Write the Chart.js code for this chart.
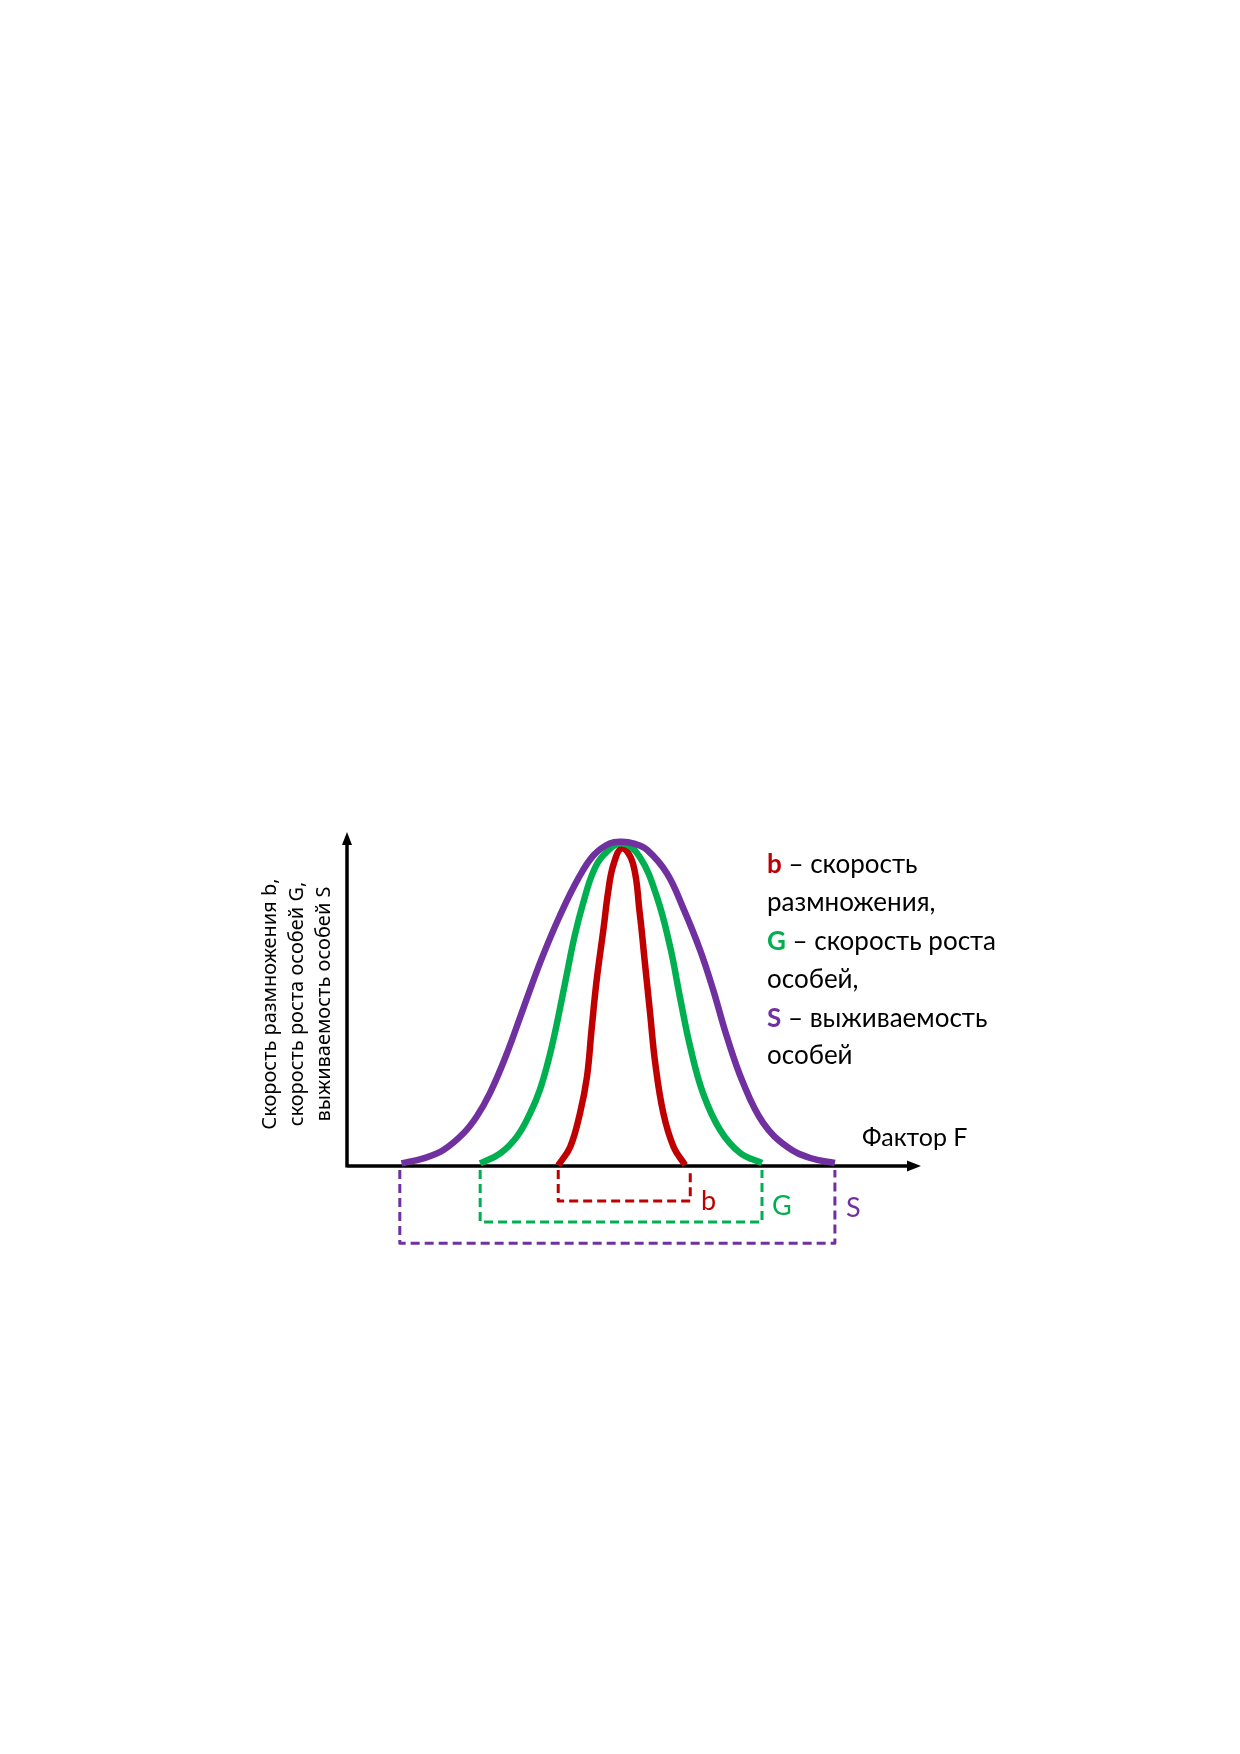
<!DOCTYPE html>
<html>
<head>
<meta charset="utf-8">
<script src="https://cdn.jsdelivr.net/npm/chart.js@4/dist/chart.umd.min.js"></script>
<style>
  body { margin: 0; background: #fff; }
  canvas { display: block; }
</style>
</head>
<body>
<canvas id="curves" width="1240" height="1754"></canvas>
<script>
// bell curves, factor F on x (0..100), rate on y (0..100)
const sX = [9.5, 13.3, 16.8, 20.3, 22.6, 24.9, 27.7, 30.8, 33.9, 37.1, 40.3, 43.0, 45.8, 47.9, 50.0, 52.3, 55.7, 58.5, 61.5, 63.8, 66.2, 69.0, 72.5, 76.7, 80.7, 85.0]
const sY = [0.8, 2.3, 4.8, 9.8, 14.8, 21.8, 33.0, 47.6, 62.0, 75.0, 86.1, 93.1, 96.6, 97.1, 96.5, 94.6, 87.7, 77.5, 64.7, 52.7, 38.6, 24.9, 12.9, 5.7, 2.4, 0.9]

const gX = [23.2, 26.7, 29.6, 31.9, 33.6, 35.1, 36.2, 37.4, 38.5, 39.7, 41.2, 42.9, 44.7, 47.9, 51.0, 54.0, 56.3, 58.0, 59.8, 62.0, 65.0, 68.5, 72.3]
const gY = [0.8, 3.8, 8.8, 15.8, 22.8, 31.7, 39.7, 49.7, 59.2, 69.2, 79.1, 88.1, 93.1, 96.6, 92.5, 80.5, 65.6, 50.6, 35.6, 21.9, 10.8, 3.9, 0.9]

const bX = [36.8, 38.9, 40.6, 41.8, 42.6, 43.5, 44.7, 45.5, 46.4, 47.9, 49.8, 51.0, 51.9, 52.8, 53.7, 55.1, 56.9, 58.9]
const bY = [0.2, 5.8, 15.9, 26.6, 40.7, 55.7, 71.2, 82.1, 90.1, 95.1, 90.7, 75.7, 60.8, 45.8, 30.8, 15.9, 5.7, 0.3]

// tolerance ranges under the axis: [from, to] and how deep the bracket hangs
const rangeB = [36.8, 59.8]
const rangeG = [23.2, 72.3]
const rangeS = [9.2, 85.0]
const bracketDepth = [-10.5, -16.8, -23.1]

const RED = '#C00000'
const GREEN = '#00B050'
const PURPLE = '#7030A0'

function toPoints(xs, ys) {
    return xs.map((x, i) => ({x: x, y: ys[i]}))
}

function bracket(range, depth) {
    return [
        {x: range[0], y: -1.2},
        {x: range[0], y: depth},
        {x: range[1], y: depth},
        {x: range[1], y: -1.2}
    ]
}

function curve(label, pts, color) {
    return {
        label: label,
        data: pts,
        borderColor: color,
        borderWidth: 6.5,
        pointRadius: 0,
        tension: 0.4,
        borderCapStyle: 'butt',
        borderJoinStyle: 'round',
        clip: false
    }
}

function dashed(label, pts, color) {
    return {
        label: label,
        data: pts,
        borderColor: color,
        borderWidth: 3,
        borderDash: [9, 5],
        pointRadius: 0,
        tension: 0,
        borderJoinStyle: 'round',
        clip: false
    }
}

// axes, arrows and all the text
const decor = {
    id: 'decor',
    beforeDatasetsDraw(chart) {
        const ctx = chart.ctx
        const xs = chart.scales.x, ys = chart.scales.y
        const x0 = xs.getPixelForValue(0), y0 = ys.getPixelForValue(0)
        const xEnd = xs.getPixelForValue(100), yEnd = ys.getPixelForValue(100)

        ctx.save()
        ctx.strokeStyle = '#000'
        ctx.fillStyle = '#000'
        ctx.lineWidth = 3.5
        ctx.beginPath()
        ctx.moveTo(x0, y0)
        ctx.lineTo(xEnd - 10, y0)
        ctx.moveTo(x0, y0 + 1.5)
        ctx.lineTo(x0, yEnd + 10)
        ctx.stroke()

        ctx.beginPath()
        ctx.moveTo(xEnd, y0)
        ctx.lineTo(xEnd - 14, y0 - 5.5)
        ctx.lineTo(xEnd - 14, y0 + 5.5)
        ctx.closePath()
        ctx.fill()
        ctx.beginPath()
        ctx.moveTo(x0, yEnd)
        ctx.lineTo(x0 - 5, yEnd + 13)
        ctx.lineTo(x0 + 5, yEnd + 13)
        ctx.closePath()
        ctx.fill()
        ctx.restore()
    },
    afterDraw(chart) {
        const ctx = chart.ctx
        ctx.save()
        ctx.textBaseline = 'alphabetic'

        // legend block on the right
        const legend = [
            [['b', RED], [' – скорость', '#000']],
            [['размножения,', '#000']],
            [['G', GREEN], [' – скорость роста', '#000']],
            [['особей,', '#000']],
            [['S', PURPLE], [' – выживаемость', '#000']],
            [['особей', '#000']]
        ]
        const baselines = [873, 911, 950, 988, 1027, 1064]
        legend.forEach((parts, i) => {
            let x = 767
            parts.forEach((p, j) => {
                const bold = parts.length > 1 && j === 0
                ctx.font = (bold ? 'bold ' : '') + '26px Lato'
                ctx.fillStyle = p[1]
                ctx.fillText(p[0], x, baselines[i])
                x += ctx.measureText(p[0]).width
            })
        })

        ctx.fillStyle = '#000'
        ctx.font = '25px Lato'
        ctx.fillText('Фактор F', 862, 1146)

        // bracket letters
        ctx.font = '27px Lato'
        ctx.fillStyle = RED
        ctx.fillText('b', 701, 1210)
        ctx.fillStyle = GREEN
        ctx.fillText('G', 772, 1215)
        ctx.fillStyle = PURPLE
        ctx.fillText('S', 846, 1217)

        // rotated y-axis title
        const title = ['Скорость размножения b,', 'скорость роста особей G,', 'выживаемость особей S']
        const titleX = [276, 303, 330]
        ctx.fillStyle = '#000'
        ctx.font = '20px "Noto Sans"'
        ctx.textAlign = 'center'
        title.forEach((t, i) => {
            ctx.save()
            ctx.translate(titleX[i], 1004)
            ctx.rotate(-Math.PI / 2)
            ctx.fillText(t, 0, 0)
            ctx.restore()
        })
        ctx.restore()
    }
}

const ctx = document.getElementById('curves').getContext('2d')
const chart = new Chart(ctx, {
    type: 'line',
    data: {
        datasets: [
            curve('S', toPoints(sX, sY), PURPLE),
            curve('G', toPoints(gX, gY), GREEN),
            curve('b', toPoints(bX, bY), RED),
            dashed('b range', bracket(rangeB, bracketDepth[0]), RED),
            dashed('G range', bracket(rangeG, bracketDepth[1]), GREEN),
            dashed('S range', bracket(rangeS, bracketDepth[2]), PURPLE)
        ]
    },
    options: {
        responsive: false,
        animation: false,
        devicePixelRatio: 1,
        layout: {
            padding: {left: 347, right: 319, top: 832, bottom: 504.5}
        },
        scales: {
            x: {type: 'linear', min: 0, max: 100, display: false},
            y: {type: 'linear', min: -25, max: 100, display: false}
        },
        plugins: {
            legend: {display: false},
            tooltip: {enabled: false}
        }
    },
    plugins: [decor]
})
</script>
</body>
</html>
